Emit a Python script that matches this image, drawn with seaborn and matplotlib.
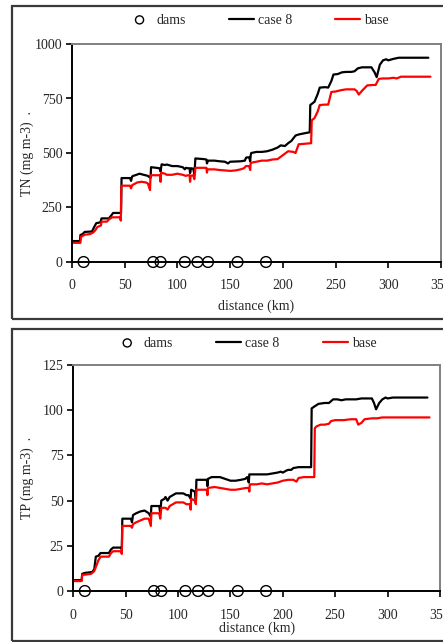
import matplotlib
matplotlib.use("Agg")
import matplotlib.pyplot as plt
import seaborn as sns
import pandas as pd
from matplotlib.patches import Rectangle

# ---------------- data ----------------
dams_km = [11, 77, 84, 107, 119, 129, 157, 184]

tn_case8 = [(0, 96), (7.5, 96), (8, 124), (10, 128), (12, 138), (19, 140), (21, 160), (23, 178),
            (25, 180), (27, 182), (28, 200), (33, 200), (35, 200), (37, 212), (39, 225), (46.5, 225),
            (47, 385), (55, 385), (56, 372), (57, 392), (58, 395), (60, 398), (64, 405), (68, 400),
            (72, 395), (74.5, 385), (75, 435), (80, 432), (83, 430), (84, 415), (85, 448), (88, 445),
            (90, 447), (95, 440), (100, 440), (105, 435), (107, 425), (108, 432), (110, 430),
            (111.5, 430), (112, 408), (113, 430), (115, 428), (116, 405), (116.5, 430), (117, 475),
            (125, 472), (127.5, 470), (128, 452), (129, 465), (135, 465), (140, 462), (145, 460),
            (148, 452), (150, 460), (160, 462), (164, 465), (165, 478), (166, 480), (168, 480),
            (169, 462), (169.5, 490), (170, 500), (175, 505), (180, 505), (185, 508), (190, 515),
            (195, 525), (198, 535), (202, 532), (205, 545), (208, 555), (212, 580), (215, 585),
            (220, 590), (225.5, 595), (226, 720), (230, 735), (233, 770), (235, 800), (240, 802),
            (243, 800), (246, 830), (248, 860), (252, 862), (256, 870), (260, 872), (265, 872),
            (268, 875), (271, 888), (275, 893), (280, 893), (284, 893), (287, 870), (289, 848),
            (292, 905), (295, 925), (298, 930), (300, 925), (305, 932), (310, 937), (320, 937),
            (338, 937)]

tn_base = [(0, 88), (8, 88), (8.5, 115), (12, 125), (17, 128), (20, 135), (22, 145), (24, 160),
           (26, 165), (27.5, 168), (28, 185), (33, 185), (35, 195), (38, 205), (45.5, 205),
           (46.3, 190), (46.8, 350), (55, 350), (56, 338), (57, 352), (58, 355), (62, 365), (66, 368),
           (70, 365), (72, 360), (74, 330), (74.5, 398), (82, 398), (83.5, 398), (84, 368),
           (84.5, 410), (88, 405), (90, 400), (95, 400), (100, 405), (105, 400), (108, 395),
           (110, 398), (111.5, 398), (112, 368), (112.5, 395), (115, 398), (116, 380), (116.5, 400),
           (117, 432), (125, 432), (127.5, 432), (128, 410), (128.5, 425), (135, 425), (140, 422),
           (150, 418), (155, 420), (160, 425), (163, 430), (165, 440), (168, 440), (169, 422),
           (169.5, 455), (175, 460), (180, 465), (185, 465), (190, 470), (195, 472), (200, 490),
           (205, 508), (210, 505), (212, 500), (215, 540), (220, 542), (226.8, 545), (227.4, 650),
           (230, 660), (233, 690), (235, 720), (240, 722), (243, 722), (246, 780), (250, 782),
           (255, 788), (260, 792), (268, 792), (270, 785), (272, 768), (275, 785), (280, 810),
           (285, 812), (288, 812), (291, 840), (295, 842), (300, 842), (305, 845), (308, 842),
           (312, 850), (320, 850), (340, 850)]

tp_case8 = [(0, 6), (8, 6), (8.5, 9.5), (11, 10), (18, 10.5), (20, 12), (21.5, 19), (24, 19.5),
            (26, 21), (32, 21), (34, 21), (36, 23), (38, 24), (45.5, 24), (46.3, 23), (46.8, 40),
            (55, 40), (56, 38), (57, 42), (60, 43), (64, 44), (68, 44.5), (72, 43), (74, 41),
            (74.5, 47), (82, 47), (83, 43), (84, 50), (87, 51), (88, 52), (90, 50), (92, 52),
            (95, 53), (98, 54), (105, 54), (108, 53), (110, 53), (112, 51), (112.5, 56), (116, 55),
            (117, 50), (117.5, 61.5), (125, 61.5), (127.5, 61.5), (128, 58), (128.5, 62), (132, 63),
            (140, 63), (145, 62), (150, 61), (155, 61), (160, 61.5), (164, 62), (166, 63),
            (167.5, 60), (168, 64.5), (175, 64.5), (180, 64.5), (185, 64.5), (190, 65), (195, 65.5),
            (198, 66), (200, 65.5), (203, 66.5), (205, 67), (208, 67), (210, 68), (215, 68.5),
            (220, 68.5), (227, 68.5), (227.5, 101), (230, 102), (234, 103.5), (240, 104), (244, 104),
            (248, 106), (252, 106), (256, 105.5), (260, 106), (270, 106), (275, 106.5), (285, 106.5),
            (287, 104), (289, 100.5), (292, 104), (295, 106), (298, 107), (300, 106.5), (305, 107),
            (310, 107), (320, 107), (338, 107)]

tp_base = [(0, 5.5), (8, 5.5), (8.5, 9), (11, 9), (17, 9.5), (20, 11), (22, 14), (24, 17), (26, 19),
           (30, 19), (34, 19), (36, 21), (38, 22), (45.5, 22), (46.3, 20.5), (46.8, 36), (55, 36),
           (56, 35), (57, 37), (60, 38), (64, 39), (68, 40), (72, 40), (74, 36), (74.5, 43), (82, 43),
           (83, 40), (84, 46), (88, 46), (90, 45), (92, 47), (95, 48), (98, 49), (105, 49), (108, 48),
           (110, 48), (111.5, 48), (112, 45), (112.5, 51), (116, 50), (117, 48), (117.5, 56),
           (125, 56), (127.5, 56), (128, 53), (128.5, 57), (135, 57.5), (140, 57), (145, 56.5),
           (150, 56), (155, 56), (160, 56.5), (165, 57), (167.5, 57), (168, 55), (168.5, 59),
           (175, 59), (180, 59.5), (185, 59), (190, 59.5), (195, 60), (200, 61), (205, 61.5),
           (210, 61.5), (213, 60.5), (215, 62.5), (220, 63), (230, 63), (230.5, 90), (232, 91),
           (236, 92), (240, 92), (244, 92.5), (246, 94), (250, 94.5), (258, 94.5), (265, 95),
           (270, 95), (272, 92), (275, 93), (278, 95), (285, 95.5), (290, 95.5), (295, 96),
           (300, 96), (310, 96), (320, 96), (340, 96)]

x_ticks = [0, 50, 100, 150, 200, 250, 300, 350]
tn_ticks = [0, 250, 500, 750, 1000]
tp_ticks = [0, 25, 50, 75, 100, 125]

# ---------------- style ----------------
sns.set_theme(style="white")
plt.rcParams["font.family"] = ["Liberation Serif", "DejaVu Serif"]
plt.rcParams["font.size"] = 10

fig = plt.figure(figsize=(4.43, 6.42), dpi=100)
W, H = 443, 642


def ax_rect(left, right, top, bottom):
    return [left / W, 1 - bottom / H, (right - left) / W, (bottom - top) / H]


ax1 = fig.add_axes(ax_rect(72, 441, 44, 262))
ax2 = fig.add_axes(ax_rect(73.3, 440, 365, 591))

# border boxes
for top, bot in [(6, 319), (329, 641)]:
    fig.add_artist(Rectangle((12 / W, 1 - bot / H), 1.2, (bot - top) / H,
                             transform=fig.transFigure, fill=False,
                             ec="#3a3a3a", lw=1.6, clip_on=False))


def panel(ax, case8, base, ymax, yticks, ylabel, xlab_y, ylab_x, leg_x, leg_y, xpad):
    c8 = pd.DataFrame(case8, columns=["km", "val"])
    bs = pd.DataFrame(base, columns=["km", "val"])
    dm = pd.DataFrame({"km": dams_km, "val": [0] * len(dams_km)})
    sns.lineplot(data=c8, x="km", y="val", sort=False, estimator=None, color="black",
                 lw=1.6, ax=ax, label="case 8")
    sns.lineplot(data=bs, x="km", y="val", sort=False, estimator=None, color="#ff0000",
                 lw=1.6, ax=ax, label="base")
    sns.scatterplot(data=dm, x="km", y="val", marker="o", s=60, facecolor="none",
                    edgecolor="black", linewidth=1.0, ax=ax, label="dams", clip_on=False, zorder=5)
    ax.set_xlim(0, 350)
    ax.set_ylim(0, ymax)
    ax.set_xticks(x_ticks)
    ax.set_yticks(yticks)
    ax.set_xlabel("distance (km)", fontsize=10)
    ax.set_ylabel(ylabel, fontsize=10)
    ax.xaxis.set_label_coords(0.5, xlab_y)
    ax.yaxis.set_label_coords(ylab_x, 0.5)
    ax.tick_params(axis="both", which="major", direction="out", length=4, width=1.2,
                   color="black", labelsize=10, pad=3, bottom=True, left=True)
    ax.tick_params(axis="x", pad=xpad)
    for s in ["left", "bottom"]:
        ax.spines[s].set_color("black")
        ax.spines[s].set_linewidth(1.4)
    for s in ["top", "right"]:
        ax.spines[s].set_color("#808080")
        ax.spines[s].set_linewidth(1.4)
    h, l = ax.get_legend_handles_labels()
    order = [l.index("dams"), l.index("case 8"), l.index("base")]
    ax.legend([h[i] for i in order], [l[i] for i in order], ncol=3, frameon=False,
              loc="center", bbox_to_anchor=(leg_x, leg_y), handlelength=1.8,
              handletextpad=0.3, columnspacing=3.1, markerscale=0.75, fontsize=10)


panel(ax1, tn_case8, tn_base, 1000, tn_ticks, "TN (mg m-3)  .", -0.174, -0.103, 0.504, 1.11, 8)
panel(ax2, tp_case8, tp_base, 125, tp_ticks, "TP (mg m-3)  .", -0.133, -0.107, 0.47, 1.097, 9)

fig.savefig("out.png", dpi=100)
